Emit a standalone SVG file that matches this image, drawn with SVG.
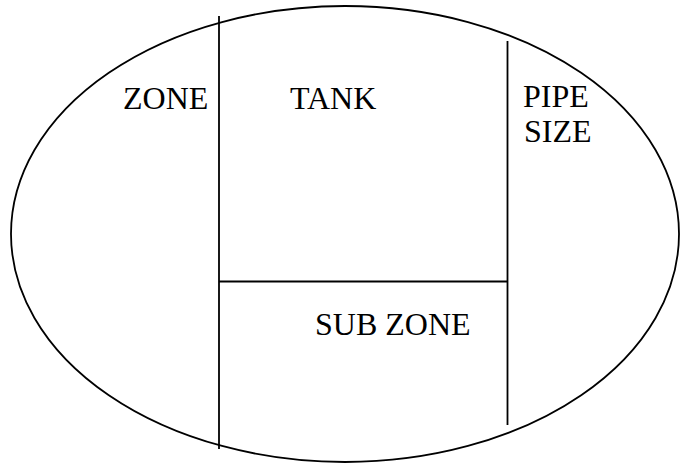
<svg xmlns="http://www.w3.org/2000/svg" width="680" height="463" viewBox="0 0 680 463">
<style>
.s{fill:none;stroke:#000;stroke-width:1.8}
.t{font-family:"Liberation Serif","Times New Roman",serif;font-size:32px;fill:#000}
</style>
<rect width="680" height="463" fill="#fff"/>
<g id="outline">
<ellipse class="s" cx="345" cy="234" rx="334" ry="228"/>
</g>
<g id="connectors">
<line class="s" x1="219" y1="16" x2="219" y2="449"/>
<line class="s" x1="507.5" y1="41" x2="507.5" y2="425"/>
<line class="s" x1="219" y1="281.5" x2="507.5" y2="281.5"/>
</g>
<g id="zone"><text class="t" x="123" y="109">ZONE</text></g>
<g id="tank"><text class="t" x="290" y="109">TANK</text></g>
<g id="pipe-size"><text class="t" x="523" y="107">PIPE</text><text class="t" x="524" y="142">SIZE</text></g>
<g id="sub-zone"><text class="t" x="315" y="335">SUB ZONE</text></g>
</svg>
